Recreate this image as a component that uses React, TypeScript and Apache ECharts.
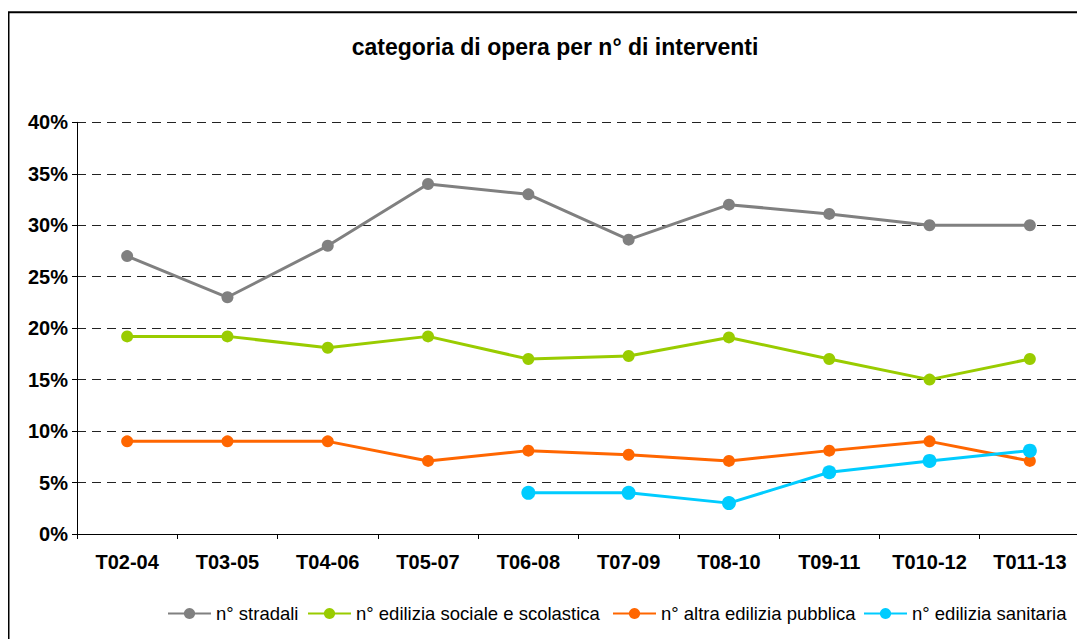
import React, { useEffect, useRef } from "react";
import * as echarts from "echarts";

const categories = ["T02-04", "T03-05", "T04-06", "T05-07", "T06-08", "T07-09", "T08-10", "T09-11", "T010-12", "T011-13"];
const stradali = [27.0, 23.0, 28.0, 34.0, 33.0, 28.6, 32.0, 31.1, 30.0, 30.0];
const ediliziaSociale = [19.2, 19.2, 18.1, 19.2, 17.0, 17.3, 19.1, 17.0, 15.0, 17.0];
const altraEdilizia = [9.0, 9.0, 9.0, 7.1, 8.1, 7.7, 7.1, 8.1, 9.0, 7.1];
const ediliziaSanitaria = [null, null, null, null, 4.0, 4.0, 3.0, 6.0, 7.1, 8.1];
const seriesNames = ["n° stradali", "n° edilizia sociale e scolastica", "n° altra edilizia pubblica", "n° edilizia sanitaria"];
const seriesColors = ["#808080", "#99CC00", "#FF6600", "#00CCFF"];
const titleText = "categoria di opera per n° di interventi";

const FONT = "'Liberation Sans', Arial, sans-serif";

export default function App() {
  const ref = useRef<HTMLDivElement>(null);
  useEffect(() => {
    if (!ref.current) return;
    const chart = echarts.init(ref.current, null, { renderer: "svg" });
    const datas = [stradali, ediliziaSociale, altraEdilizia, ediliziaSanitaria];
    const sizes = [12, 12, 12, 14];
    const legendLefts = [159, 299, 604, 855];
    chart.setOption({
      animation: false,
      backgroundColor: "#ffffff",
      textStyle: { fontFamily: FONT },
      graphic: [
        { type: "line", shape: { x1: 0.5, y1: 4.3, x2: 0.5, y2: 700 }, style: { stroke: "#000", lineWidth: 2 } },
        { type: "line", shape: { x1: 0, y1: 4.3, x2: 1200, y2: 4.3 }, style: { stroke: "#000", lineWidth: 2 } },
        {
          type: "text",
          x: 547,
          y: 39,
          style: {
            text: titleText,
            textAlign: "center",
            textVerticalAlign: "middle",
            font: `bold 23px ${FONT}`,
            fill: "#000",
          },
        },
      ],
      legend: seriesNames.map((n, i) => ({
        data: [n],
        left: legendLefts[i],
        top: 596,
        padding: 0,
        itemWidth: 43,
        itemHeight: 14,
        itemGap: 8,
        textStyle: { fontSize: 18.5, color: "#000", fontFamily: FONT },
      })),
      grid: { left: 69, right: 5, top: 114.3, bottom: 105, containLabel: false },
      xAxis: {
        type: "category",
        data: categories,
        boundaryGap: true,
        axisLine: { lineStyle: { color: "#000", width: 1 } },
        axisTick: { show: true, length: 5, lineStyle: { color: "#000" } },
        axisLabel: { fontSize: 20, fontWeight: "bold", color: "#000", margin: 18, fontFamily: FONT },
        splitLine: { show: false },
      },
      yAxis: {
        type: "value",
        min: 0,
        max: 40,
        interval: 5,
        axisLine: { show: true, lineStyle: { color: "#000", width: 1 } },
        axisTick: { show: true, length: 5, lineStyle: { color: "#000" } },
        axisLabel: { formatter: "{value}%", fontSize: 20, fontWeight: "bold", color: "#000", margin: 9, fontFamily: FONT },
        splitLine: { show: true, lineStyle: { color: "#222", width: 1, type: [9, 6] } },
      },
      series: seriesNames.map((n, i) => ({
        name: n,
        type: "line",
        data: datas[i],
        symbol: "circle",
        symbolSize: sizes[i],
        showSymbol: true,
        connectNulls: false,
        itemStyle: { color: seriesColors[i] },
        lineStyle: { color: seriesColors[i], width: 3 },
      })),
    });
    return () => chart.dispose();
  }, []);
  return <div ref={ref} style={{ width: 1077, height: 631 }} />;
}
